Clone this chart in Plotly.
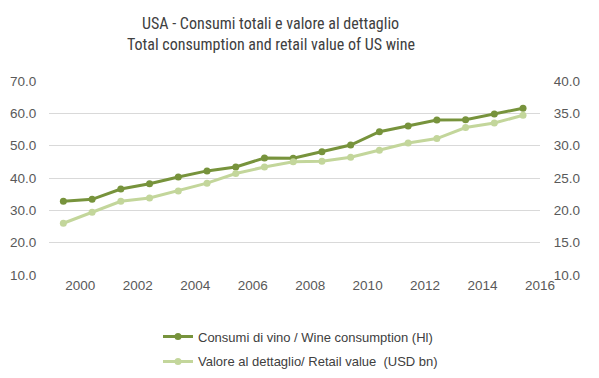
import plotly.graph_objects as go

years = list(range(1999, 2016))
consumption = [32.8, 33.4, 36.6, 38.2, 40.3, 42.2, 43.4, 46.2, 46.1, 48.1, 50.2, 54.3, 56.1, 57.9, 58.0, 59.8, 61.6]
retail = [18.0, 19.7, 21.4, 21.9, 23.0, 24.2, 25.7, 26.7, 27.5, 27.6, 28.2, 29.3, 30.4, 31.1, 32.8, 33.5, 34.7]
tick_years = list(range(2000, 2017, 2))
left_ticks = [10, 20, 30, 40, 50, 60, 70]
right_ticks = [10, 15, 20, 25, 30, 35, 40]
title_lines = ["USA - Consumi totali e valore al dettaglio",
               "Total consumption and retail value of US wine"]

dark = "#77933C"
light = "#C3D69B"
narrow = "Roboto Condensed, Liberation Sans Narrow, sans-serif"
regular = "Liberation Sans, Arial, sans-serif"

fig = go.Figure()
fig.add_trace(go.Scatter(x=years, y=consumption, name="Consumi di vino / Wine consumption (Hl)",
                         mode="lines+markers", line=dict(color=dark, width=3),
                         marker=dict(size=7, color=dark), legendgroup="a"))
fig.add_trace(go.Scatter(x=years, y=retail, name="Valore al dettaglio/ Retail value  (USD bn)",
                         mode="lines+markers", line=dict(color=light, width=3),
                         marker=dict(size=7, color=light), yaxis="y2", legendgroup="b"))

title_y = [1.296, 1.188]
for line, ty in zip(title_lines, title_y):
    fig.add_annotation(text=line, xref="paper", yref="paper", x=0.452, xanchor="center",
                       y=ty, yanchor="middle", showarrow=False,
                       font=dict(size=16, color="#404040", family=narrow))

fig.update_layout(
    width=591, height=370,
    paper_bgcolor="white", plot_bgcolor="white",
    margin=dict(l=41, r=59, t=73, b=103, autoexpand=False),
    font=dict(family=regular, color="#595959", size=13),
    xaxis=dict(range=[1998.5, 2015.59], tickmode="array",
               tickvals=[t - 0.41 for t in tick_years], ticktext=[str(t) for t in tick_years],
               showgrid=False, zeroline=False, showline=False, ticks="",
               tickfont=dict(size=13.5, color="#595959", family=regular)),
    yaxis=dict(range=[10, 70], tickvals=left_ticks, ticktext=[f"{v:.1f}" for v in left_ticks],
               showgrid=True, gridcolor="#D9D9D9", gridwidth=1, zeroline=False, showline=False,
               ticks="outside", ticklen=9, tickcolor="rgba(0,0,0,0)",
               tickfont=dict(size=13.5, color="#595959", family=regular)),
    yaxis2=dict(range=[10, 40], tickvals=right_ticks, ticktext=[f"{v:.1f}" for v in right_ticks],
                overlaying="y", side="right", showgrid=False, zeroline=False, showline=False,
                ticks="outside", ticklen=10, tickcolor="rgba(0,0,0,0)",
                tickfont=dict(size=13.5, color="#595959", family=regular)),
    legend=dict(x=0.222, y=-0.24, xanchor="left", yanchor="top", orientation="v",
                font=dict(size=13, color="#404040", family=regular), itemwidth=30,
                traceorder="grouped", tracegroupgap=5, bgcolor="rgba(0,0,0,0)"),
    showlegend=True,
)

fig.write_html("out.html")
